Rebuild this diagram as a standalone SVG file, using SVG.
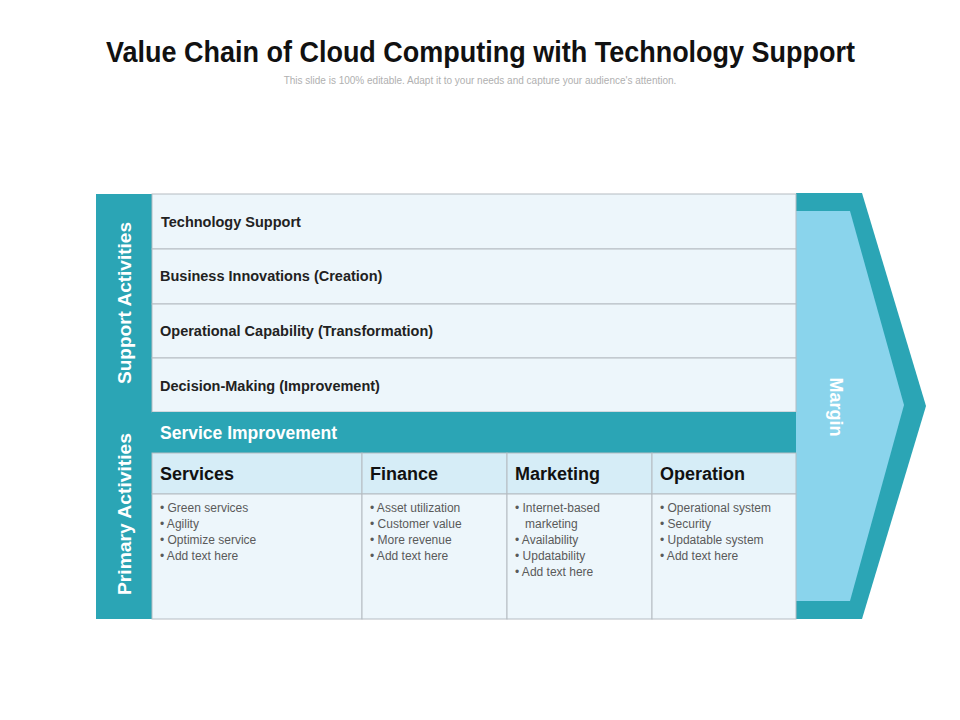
<svg xmlns="http://www.w3.org/2000/svg" width="960" height="720" viewBox="0 0 960 720">
<style>
text{font-family:"Liberation Sans",Arial,sans-serif}
.row{fill:#edf6fb;stroke:#b5bcc2;stroke-width:1}
.hd{fill:#d6edf7;stroke:#b5bcc2;stroke-width:1}
.rt{font-size:14.5px;font-weight:bold;fill:#222}
.ht{font-size:18px;font-weight:bold;fill:#111}
.bt{font-size:12px;fill:#5a5a5a}
.vt{font-size:18px;font-weight:bold;fill:#fff}
</style>
<rect width="960" height="720" fill="#fff"/>
<text x="106" y="62" textLength="749" lengthAdjust="spacingAndGlyphs" font-size="29" font-weight="bold" fill="#111">Value Chain of Cloud Computing with Technology Support</text>
<text x="480" y="84" text-anchor="middle" font-size="10" fill="#b0b0b0">This slide is 100% editable. Adapt it to your needs and capture your audience's attention.</text>
<g id="margin">
<polygon points="796,193 862,193 926,406 862,619 796,619" fill="#2ba5b5"/>
<polygon points="796,211 850,211 904,405 850,601 796,601" fill="#8ad4ec"/>
<text transform="translate(830,407) rotate(90)" text-anchor="middle" class="vt" font-size="19">Margin</text>
</g>
<g id="left-bar">
<rect x="96" y="194" width="56" height="425" fill="#2ba5b5"/>
<text transform="translate(131,303) rotate(-90)" text-anchor="middle" class="vt" textLength="162" lengthAdjust="spacingAndGlyphs">Support Activities</text>
<text transform="translate(131,514) rotate(-90)" text-anchor="middle" class="vt" textLength="162" lengthAdjust="spacingAndGlyphs">Primary Activities</text>
</g>
<g id="support">
<rect class="row" x="152" y="194" width="644" height="55"/>
<rect class="row" x="152" y="249" width="644" height="55"/>
<rect class="row" x="152" y="304" width="644" height="54"/>
<rect class="row" x="152" y="358" width="644" height="54"/>
<text class="rt" x="161" y="227">Technology Support</text>
<text class="rt" x="160" y="281">Business Innovations (Creation)</text>
<text class="rt" x="160" y="336">Operational Capability (Transformation)</text>
<text class="rt" x="160" y="391" font-size="15.5">Decision-Making (Improvement)</text>
</g>
<g id="service-improvement">
<rect x="152" y="412" width="644" height="41" fill="#2ba5b5"/>
<text x="160" y="439" font-size="17.5" font-weight="bold" fill="#fff">Service Improvement</text>
</g>
<g id="services">
<rect class="hd" x="152" y="453" width="210" height="41"/>
<rect class="row" x="152" y="494" width="210" height="125"/>
<text class="ht" x="160" y="480">Services</text>
<text class="bt" x="160" y="512">• Green services</text>
<text class="bt" x="160" y="528">• Agility</text>
<text class="bt" x="160" y="544">• Optimize service</text>
<text class="bt" x="160" y="560">• Add text here</text>
</g>
<g id="finance">
<rect class="hd" x="362" y="453" width="145" height="41"/>
<rect class="row" x="362" y="494" width="145" height="125"/>
<text class="ht" x="370" y="480">Finance</text>
<text class="bt" x="370" y="512">• Asset utilization</text>
<text class="bt" x="370" y="528">• Customer value</text>
<text class="bt" x="370" y="544">• More revenue</text>
<text class="bt" x="370" y="560">• Add text here</text>
</g>
<g id="marketing">
<rect class="hd" x="507" y="453" width="145" height="41"/>
<rect class="row" x="507" y="494" width="145" height="125"/>
<text class="ht" x="515" y="480">Marketing</text>
<text class="bt" x="515" y="512">• Internet-based</text>
<text class="bt" x="525" y="528">marketing</text>
<text class="bt" x="515" y="544">• Availability</text>
<text class="bt" x="515" y="560">• Updatability</text>
<text class="bt" x="515" y="576">• Add text here</text>
</g>
<g id="operation">
<rect class="hd" x="652" y="453" width="144" height="41"/>
<rect class="row" x="652" y="494" width="144" height="125"/>
<text class="ht" x="660" y="480">Operation</text>
<text class="bt" x="660" y="512">• Operational system</text>
<text class="bt" x="660" y="528">• Security</text>
<text class="bt" x="660" y="544">• Updatable system</text>
<text class="bt" x="660" y="560">• Add text here</text>
</g>
<g id="connectors"></g>
</svg>
